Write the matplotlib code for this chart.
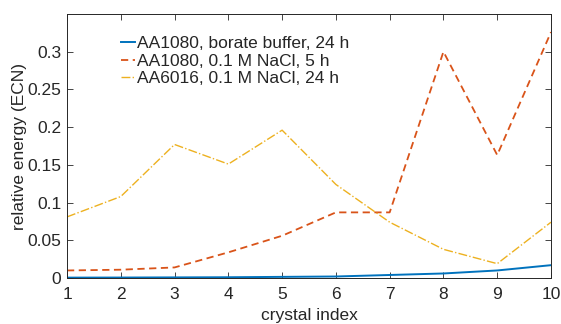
import matplotlib
matplotlib.use("Agg")
from matplotlib import pyplot as plt
import numpy as np

crystal = [1, 2, 3, 4, 5, 6, 7, 8, 9, 10]
borate_24h = [0.0005, 0.0006, 0.0008, 0.001, 0.0015, 0.002, 0.004, 0.006, 0.010, 0.017]
nacl_1080_5h = [0.010, 0.011, 0.014, 0.034, 0.056, 0.087, 0.087, 0.300, 0.163, 0.326]
nacl_6016_24h = [0.081, 0.108, 0.177, 0.151, 0.196, 0.124, 0.074, 0.038, 0.019, 0.074]
labels = ["AA1080, borate buffer, 24 h", "AA1080, 0.1 M NaCl, 5 h", "AA6016, 0.1 M NaCl, 24 h"]

plt.rcParams['font.family'] = ['Liberation Sans', 'DejaVu Sans']
plt.rcParams['font.size'] = 12.5

fig = plt.figure(figsize=(5.61, 3.24), dpi=100)
ax = fig.add_axes([67 / 561, 1 - 278 / 324, (551 - 67) / 561, (278 - 14) / 324])

ax.plot(crystal, borate_24h, '-', color='#0072BD', lw=1.4, label=labels[0])
ax.plot(crystal, nacl_1080_5h, '--', color='#D95319', lw=1.3, dashes=(4, 2.5), label=labels[1])
ax.plot(crystal, nacl_6016_24h, '-.', color='#EDB120', lw=1.0, label=labels[2])

ax.set_xlim(1, 10)
ax.set_ylim(0, 0.35)
ax.set_xticks(crystal)
ax.set_yticks([0, 0.05, 0.1, 0.15, 0.2, 0.25, 0.3])
ax.set_yticklabels(['0', '0.05', '0.1', '0.15', '0.2', '0.25', '0.3'])
ax.tick_params(direction='in', top=True, right=True, length=4, width=0.6,
               colors='#262626', labelcolor='#262626')
ax.tick_params(axis='x', pad=6.5)
ax.tick_params(axis='y', pad=4)
for s in ax.spines.values():
    s.set_color('#262626')
    s.set_linewidth(0.7)

ax.set_xlabel('crystal index', color='#262626')
ax.set_ylabel('relative energy (ECN)', color='#262626')
ax.xaxis.set_label_coords(0.5, -0.112)
ax.yaxis.set_label_coords(-0.083, 0.5)

leg = ax.legend(loc='upper left', bbox_to_anchor=(0.08, 0.975), frameon=False,
                handlelength=0.8, handletextpad=0.1, labelspacing=0.12)
for t in leg.get_texts():
    t.set_color('#262626')

fig.savefig('out.png', dpi=100)
